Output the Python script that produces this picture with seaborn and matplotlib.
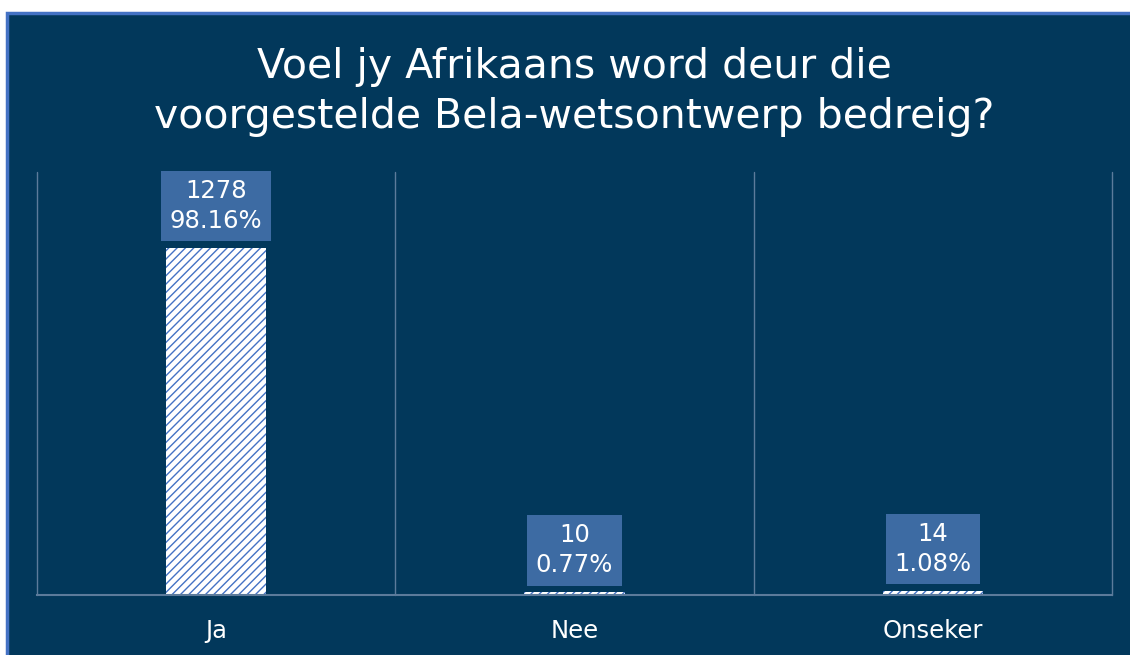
import matplotlib
matplotlib.use("Agg")
import matplotlib.pyplot as plt
import seaborn as sns
import pandas as pd
from matplotlib.patches import Rectangle

categories = ["Ja", "Nee", "Onseker"]
counts = [1278, 10, 14]
percentages = ["98.16%", "0.77%", "1.08%"]
title = "Voel jy Afrikaans word deur die\nvoorgestelde Bela-wetsontwerp bedreig?"

BG = "#02385B"
BORDER = "#4472C4"
GRID = "#5C7B9B"
BOX = "#3D6BA3"
HATCH = "#4472C4"

sns.set_theme(style="white")
plt.rcParams["font.family"] = ["DejaVu Sans"]
plt.rcParams["hatch.linewidth"] = 1.0

W, H = 1130, 655
fig = plt.figure(figsize=(W / 100, H / 100), dpi=100, facecolor="white")

# background panel with border
fig.patches.append(Rectangle((7 / W, -0.05), 1.1, (H - 13) / H + 0.05,
                             transform=fig.transFigure, facecolor=BG,
                             edgecolor=BORDER, linewidth=2.5, zorder=-10))

ax = fig.add_axes([37 / W, (H - 595) / H, (1112 - 37) / W, (595 - 172) / H])
ax.set_facecolor("none")
ax.set_zorder(5)

df = pd.DataFrame({"cat": categories, "count": counts})
sns.barplot(data=df, x="cat", y="count", color="white", width=0.28, ax=ax,
            saturation=1)
for p in ax.patches:
    p.set_facecolor("white")
    p.set_edgecolor(HATCH)
    p.set_linewidth(0)
    p.set_hatch("////")

ax.set_ylim(0, 1558)
ax.set_xlim(-0.5, 2.5)
for xv in [-0.5, 0.5, 1.5, 2.5]:
    ax.axvline(xv, color=GRID, lw=1, zorder=0, clip_on=False)

for s in ["top", "left", "right"]:
    ax.spines[s].set_visible(False)
ax.spines["bottom"].set_color(GRID)
ax.spines["bottom"].set_linewidth(1.5)

ax.set_yticks([])
ax.set_xlabel("")
ax.set_ylabel("")
ax.tick_params(axis="x", length=0, pad=17, labelsize=17.5, labelcolor="white")

for i, (c, pct) in enumerate(zip(counts, percentages)):
    ax.annotate(f"{c}\n{pct}", xy=(i, c), xytext=(0, 11),
                textcoords="offset points", ha="center", va="bottom",
                color="white", fontsize=17.5, linespacing=1.3,
                bbox=dict(boxstyle="square,pad=0.35", facecolor=BOX,
                          edgecolor="none"))

fig.text((37 + 1112) / 2 / W, (H - 92) / H, title, ha="center", va="center",
         color="white", fontsize=29.5, linespacing=1.3, zorder=6)

fig.savefig("out.png", dpi=100, facecolor="white")
